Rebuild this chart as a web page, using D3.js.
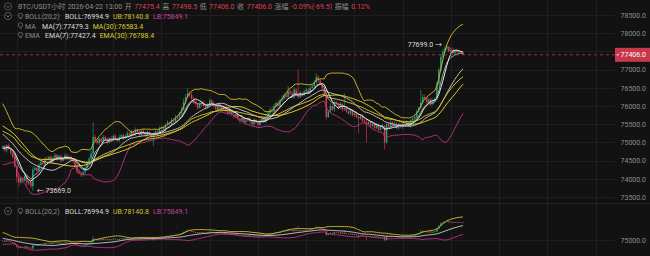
<!DOCTYPE html>
<html>
<head>
<meta charset="utf-8">
<script src="https://cdn.jsdelivr.net/npm/d3@7"></script>
<style>
  body { margin: 0; background: #121212; }
  svg { display: block; }
  text { font-family: Roboto, "Noto Sans CJK SC", sans-serif; font-size: 7px; }
</style>
</head>
<body>
<svg id="chart" width="650" height="256"></svg>
<script>
// hourly closes before the first visible candle (only feed the indicators)
const warmup = [75950, 75880, 76000, 75920, 75850, 75950, 75820, 75900, 75860, 75870,
  75920, 75950, 75900, 75850, 75780, 75700, 75600, 75480, 75350, 75250,
  75100, 75000, 74900, 74850, 74800, 74780, 74850, 74820, 74900, 74860];

// visible candles, open = previous close
const closes = [
  74880, 74780, 74920, 74820, 74700, 74600, 74350, 74050, 73900, 74020,
  73950, 74080, 73880, 73920, 73800, 74250, 74300, 74220, 74380, 74450,
  74400, 74560, 74520, 74600, 74480, 74580, 74650, 74550, 74620, 74500,
  74580, 74640, 74560, 74600, 74520, 74480, 74350, 74200, 74150, 74100,
  74180, 74300, 74450, 74550, 74700, 75150, 75050, 74980, 75100, 75020,
  75150, 75080, 75000, 75120, 75060, 75180, 75100, 75050, 75150, 75200,
  75120, 75180, 75250, 75180, 75300, 75220, 75350, 75280, 75200, 75320,
  75250, 75180, 75280, 75220, 75150, 75250, 75300, 75250, 75380, 75420,
  75350, 75480, 75550, 75500, 75620, 75580, 75700, 75680, 75800, 75900,
  76100, 76250, 76350, 76300, 76200, 76100, 76050, 75950, 76050, 76100,
  76000, 75950, 76050, 76150, 76080, 76000, 75920, 76020, 75950, 75900,
  75980, 75850, 75800, 75880, 75750, 75700, 75780, 75650, 75600, 75680,
  75550, 75600, 75650, 75580, 75500, 75620, 75550, 75480, 75600, 75650,
  75580, 75700, 75800, 75900, 75850, 76000, 76080, 76000, 76150, 76200,
  76300, 76250, 76400, 76350, 76250, 76450, 76300, 76250, 76350, 76300,
  76400, 76450, 76380, 76500, 76550, 76650, 76800, 76700, 76600, 76500,
  76300, 75700, 75850, 76000, 75900, 76100, 76050, 75950, 76050, 75900,
  75950, 75850, 75800, 75880, 75750, 75800, 75700, 75650, 75720, 75600,
  75550, 75500, 75550, 75450, 75500, 75400, 75480, 75350, 75420, 75450,
  75000, 75500, 75450, 75550, 75480, 75520, 75400, 75480, 75420, 75500,
  75500, 75550, 75450, 75600, 75650, 75700, 75850, 75950, 76100, 76250,
  76200, 76100, 76180, 76050, 76150, 76200, 76600, 77000, 77350, 77500,
  77580, 77620, 77500, 77550, 77450, 77520, 77480, 77500, 77475.4, 77406.0];

// how far each high sits above the body / each low below it
const wickUp = [
  40, 60, 30, 50, 40, 30, 50, 40, 60, 50,
  40, 60, 30, 50, 40, 80, 50, 40, 60, 30,
  50, 40, 60, 30, 50, 40, 60, 30, 40, 50,
  30, 60, 40, 50, 30, 60, 40, 30, 50, 40,
  60, 50, 40, 60, 80, 400, 60, 40, 50, 30,
  60, 40, 50, 30, 60, 40, 50, 40, 60, 30,
  50, 40, 60, 30, 50, 40, 60, 30, 50, 40,
  60, 30, 50, 40, 60, 30, 50, 40, 60, 30,
  50, 40, 60, 30, 50, 40, 60, 50, 40, 80,
  100, 80, 150, 60, 80, 50, 60, 40, 50, 60,
  40, 50, 30, 60, 40, 50, 30, 60, 40, 50,
  30, 60, 40, 50, 30, 60, 40, 50, 30, 60,
  40, 50, 30, 60, 40, 50, 30, 60, 40, 50,
  30, 60, 40, 50, 80, 60, 40, 80, 50, 100,
  60, 80, 150, 50, 60, 80, 40, 700, 60, 50,
  40, 60, 50, 80, 40, 60, 100, 50, 60, 40,
  50, 60, 40, 80, 50, 60, 40, 50, 60, 40,
  400, 50, 40, 60, 30, 50, 40, 60, 30, 50,
  40, 60, 30, 50, 40, 60, 30, 50, 40, 60,
  40, 50, 30, 60, 40, 50, 30, 60, 40, 50,
  30, 60, 40, 50, 40, 60, 50, 40, 350, 80,
  60, 50, 40, 60, 50, 40, 80, 60, 80, 60,
  60, 79, 40, 60, 50, 40, 60, 50, 20, 23.1];
const wickDown = [
  50, 40, 60, 30, 50, 60, 40, 150, 120, 50,
  60, 40, 80, 50, 60, 131, 40, 60, 30, 50,
  40, 60, 30, 50, 40, 60, 30, 50, 40, 60,
  30, 50, 40, 60, 30, 50, 40, 60, 30, 50,
  40, 60, 30, 50, 40, 60, 50, 40, 60, 30,
  50, 40, 60, 30, 50, 40, 60, 30, 50, 40,
  60, 30, 50, 40, 60, 30, 50, 40, 60, 30,
  50, 40, 60, 30, 50, 250, 40, 60, 30, 50,
  40, 60, 30, 50, 40, 60, 30, 50, 40, 60,
  30, 50, 40, 60, 80, 50, 40, 60, 30, 50,
  40, 60, 30, 50, 40, 60, 30, 50, 40, 60,
  30, 50, 40, 60, 30, 50, 40, 60, 80, 50,
  40, 60, 30, 80, 40, 60, 30, 50, 40, 60,
  30, 50, 40, 60, 30, 50, 40, 60, 30, 50,
  40, 60, 30, 50, 40, 60, 30, 50, 40, 60,
  30, 50, 40, 60, 30, 50, 40, 60, 30, 50,
  40, 80, 30, 50, 40, 60, 30, 50, 40, 60,
  30, 50, 40, 60, 30, 50, 40, 400, 30, 50,
  40, 500, 30, 60, 40, 50, 30, 60, 40, 50,
  200, 50, 40, 60, 30, 50, 40, 60, 30, 50,
  40, 60, 30, 50, 40, 60, 30, 50, 40, 60,
  30, 50, 40, 60, 30, 50, 40, 60, 50, 60,
  40, 60, 30, 50, 40, 60, 30, 50, 40, 0];

const priceTicks = [73500, 74000, 74500, 75000, 75500, 76000, 76500, 77000, 77500, 78000, 78500];
const lowerTicks = [75000];
const dayLines = d3.range(7, 300, 24);   // one candle per hour, grid each day

const headerRow = [
  {t: "BTC/USDT小时", c: "muted"}, {t: "2026-04-22 13:00", c: "muted"},
  {t: "开", c: "muted"}, {t: "77475.4", c: "red"},
  {t: "高", c: "muted"}, {t: "77498.5", c: "red"},
  {t: "低", c: "muted"}, {t: "77406.0", c: "red"},
  {t: "收", c: "muted"}, {t: "77406.0", c: "red"},
  {t: "涨幅", c: "muted"}, {t: "-0.09%(-69.5)", c: "red"},
  {t: "振幅", c: "muted"}, {t: "0.12%", c: "red"}];
const bollLegend = [{t: "BOLL:76994.9", c: "white"}, {t: "UB:78140.8", c: "ub"}, {t: "LB:75849.1", c: "lb"}];
const maLegend = [{t: "MA(7):77479.3", c: "white"}, {t: "MA(30):76583.4", c: "yellow"}];
const emaLegend = [{t: "EMA(7):77427.4", c: "white"}, {t: "EMA(30):76788.4", c: "yellow"}];

const colors = {
  muted: "#8d8d8d", red: "#de3e51", white: "#dcdcdc", yellow: "#dccb2c",
  ub: "#d2c02a", lb: "#c8439a", grid: "#1f1f1f", up: "#22a57c", down: "#e23b55"
};

const N = closes.length;
const opens = closes.map((c, i) => i === 0 ? warmup[warmup.length - 1] : closes[i - 1]);
const highs = closes.map((c, i) => Math.max(opens[i], c) + wickUp[i]);
const lows = closes.map((c, i) => Math.min(opens[i], c) - wickDown[i]);
const candles = closes.map((c, i) => ({i: i, o: opens[i], h: highs[i], l: lows[i], c: c}));

// indicators
const all = warmup.concat(closes);
const W = warmup.length;
function win(n, i) { return all.slice(W + i - n + 1, W + i + 1); }
function sma(n) { return closes.map((_, i) => d3.mean(win(n, i))); }
function ema(n) {
  var a = 2 / (n + 1), e = all[0], out = [];
  all.forEach(function(v, j) {
    e = j === 0 ? v : a * v + (1 - a) * e;
    if (j >= W) out.push(e);
  });
  return out;
}
const boll = closes.map((_, i) => {
  var w = win(20, i), m = d3.mean(w);
  var sd = Math.sqrt(d3.mean(w, v => (v - m) * (v - m)));
  return {mid: m, ub: m + 2 * sd, lb: m - 2 * sd};
});
const ma7 = sma(7), ma30 = sma(30), ema7 = ema(7), ema30 = ema(30);

// scales
const x = d3.scaleLinear().domain([0, 295]).range([2.7, 2.7 + 2.01 * 295]);
const y = d3.scaleLinear().domain([73500, 78500]).range([197, 15]);
const yLow = d3.scaleLinear().domain([73000, 79000]).range([254.2, 211.6]);

const svg = d3.select("#chart");
svg.append("rect").attr("width", 650).attr("height", 256).attr("fill", "#121212");

// grid
svg.append("g").selectAll("line").data(dayLines).join("line")
  .attr("x1", d => Math.round(x(d)) + 0.5).attr("x2", d => Math.round(x(d)) + 0.5)
  .attr("y1", 0).attr("y2", 256)
  .attr("stroke", colors.grid);
svg.append("g").selectAll("line").data(priceTicks).join("line")
  .attr("x1", 0).attr("x2", 615)
  .attr("y1", d => Math.round(y(d)) + 0.5).attr("y2", d => Math.round(y(d)) + 0.5)
  .attr("stroke", colors.grid);
svg.append("g").selectAll("line").data(lowerTicks).join("line")
  .attr("x1", 0).attr("x2", 615)
  .attr("y1", d => Math.round(yLow(d)) + 0.5).attr("y2", d => Math.round(yLow(d)) + 0.5)
  .attr("stroke", colors.grid);
svg.append("line").attr("x1", 0).attr("x2", 650).attr("y1", 203.5).attr("y2", 203.5).attr("stroke", "#232323");

// right axes (the tick hidden under the last-price tag is left out)
const lastPrice = closes[N - 1];
var axisMain = svg.append("g").attr("transform", "translate(646,0)")
  .call(d3.axisLeft(y).tickValues(priceTicks.filter(v => Math.abs(y(v) - y(lastPrice)) > 9))
    .tickFormat(d3.format(".1f")).tickSize(0).tickPadding(0));
var axisLow = svg.append("g").attr("transform", "translate(646,0)")
  .call(d3.axisLeft(yLow).tickValues(lowerTicks).tickFormat(d3.format(".1f")).tickSize(0).tickPadding(0));
[axisMain, axisLow].forEach(function(g) {
  g.select(".domain").remove();
  g.selectAll("text").attr("fill", colors.muted).attr("font-size", 7)
    .attr("font-family", "Roboto, sans-serif");
});

function drawCandles(g, ys, bodyW) {
  g.selectAll("line.wick").data(candles).join("line").attr("class", "wick")
    .attr("x1", d => x(d.i)).attr("x2", d => x(d.i))
    .attr("y1", d => ys(d.h)).attr("y2", d => ys(d.l))
    .attr("stroke", d => d.c >= d.o ? colors.up : colors.down)
    .attr("stroke-width", 0.6);
  g.selectAll("rect.body").data(candles).join("rect").attr("class", "body")
    .attr("x", d => x(d.i) - bodyW / 2).attr("width", bodyW)
    .attr("y", d => ys(Math.max(d.o, d.c)))
    .attr("height", d => Math.max(0.6, Math.abs(ys(d.o) - ys(d.c))))
    .attr("fill", d => d.c >= d.o ? colors.up : colors.down);
}

function drawLine(g, vals, ys, color) {
  g.append("path").datum(vals)
    .attr("fill", "none").attr("stroke", color).attr("stroke-width", 1)
    .attr("d", d3.line().x((d, i) => x(i)).y(d => ys(d)));
}

// main pane
var main = svg.append("g");
drawCandles(main, y, 1.4);
drawLine(main, boll.map(d => d.ub), y, "#c2b025");
drawLine(main, boll.map(d => d.lb), y, "#ac2f7d");
drawLine(main, boll.map(d => d.mid), y, "#bdbdbd");
drawLine(main, ema30, y, "#d5c22a");
drawLine(main, ma30, y, "#e0cd2e");
drawLine(main, ema7, y, "#9a9a9a");
drawLine(main, ma7, y, "#e8e8e8");

// lower pane (BOLL only)
var low = svg.append("g");
drawCandles(low, yLow, 1.4);
drawLine(low, boll.map(d => d.ub), yLow, "#c2b025");
drawLine(low, boll.map(d => d.lb), yLow, "#ac2f7d");
drawLine(low, boll.map(d => d.mid), yLow, "#bdbdbd");

// extreme markers
var hiIdx = d3.maxIndex(highs), loIdx = d3.minIndex(lows);
svg.append("text").attr("x", x(hiIdx) - 5).attr("y", y(highs[hiIdx]) + 2.5)
  .attr("text-anchor", "end").attr("fill", "#dcdcdc")
  .text(highs[hiIdx].toFixed(1) + " →");
svg.append("text").attr("x", x(loIdx) + 4).attr("y", y(lows[loIdx]) + 2.5)
  .attr("fill", "#dcdcdc")
  .text("← " + lows[loIdx].toFixed(1));

// last price line + tag
var lastY = y(lastPrice);
svg.append("line").attr("x1", 0).attr("x2", 615).attr("y1", lastY).attr("y2", lastY)
  .attr("stroke", "#b8394c").attr("stroke-width", 0.8).attr("stroke-dasharray", "3,3");
svg.append("rect").attr("x", 615).attr("y", lastY - 7).attr("width", 35).attr("height", 14)
  .attr("fill", "#c8384a");
svg.append("line").attr("x1", 616.5).attr("x2", 619).attr("y1", lastY).attr("y2", lastY)
  .attr("stroke", "#fff").attr("stroke-width", 0.8);
svg.append("text").attr("x", 646).attr("y", lastY + 2.5).attr("text-anchor", "end")
  .attr("fill", "#fff").text(lastPrice.toFixed(1));

// header
function chevronIcon(cx, cy) {
  svg.append("circle").attr("cx", cx).attr("cy", cy).attr("r", 3.6)
    .attr("fill", "none").attr("stroke", "#6d6d6d").attr("stroke-width", 0.7);
  svg.append("path").attr("d", `M${cx - 1.6},${cy - 0.6}L${cx},${cy + 1}L${cx + 1.6},${cy - 0.6}`)
    .attr("fill", "none").attr("stroke", "#8d8d8d").attr("stroke-width", 0.7);
}
function bellIcon(cx, cy) {
  svg.append("circle").attr("cx", cx).attr("cy", cy - 0.5).attr("r", 2.2)
    .attr("fill", "none").attr("stroke", "#7a7a7a").attr("stroke-width", 0.7);
  svg.append("line").attr("x1", cx - 1.2).attr("x2", cx + 1.2).attr("y1", cy + 2.6).attr("y2", cy + 2.6)
    .attr("stroke", "#7a7a7a").attr("stroke-width", 0.7);
}

chevronIcon(8, 6.5);
var row1 = svg.append("text").attr("x", 18).attr("y", 9);
headerRow.forEach(function(d, k) {
  row1.append("tspan").attr("dx", k === 0 ? 0 : 2.5)
    .attr("fill", colors[d.c]).text(d.t);
});

// legend rows: grey label, then the values one after another
function legendRow(yy, label, startX, items, withChevron) {
  if (withChevron) chevronIcon(8, yy - 3);
  bellIcon(20.5, yy - 3);
  svg.append("text").attr("x", 25).attr("y", yy).attr("fill", colors.muted).text(label);
  var cx = startX;
  items.forEach(function(d) {
    var t = svg.append("text").attr("x", cx).attr("y", yy).attr("fill", colors[d.c]).text(d.t);
    cx += t.node().getComputedTextLength() + 4;
  });
}
legendRow(19, "BOLL(20,2)", 65, bollLegend, true);
legendRow(28.5, "MA", 42, maLegend, false);
legendRow(38, "EMA", 45, emaLegend, false);
legendRow(214, "BOLL(20,2)", 65, bollLegend, true);
</script>
</body>
</html>
